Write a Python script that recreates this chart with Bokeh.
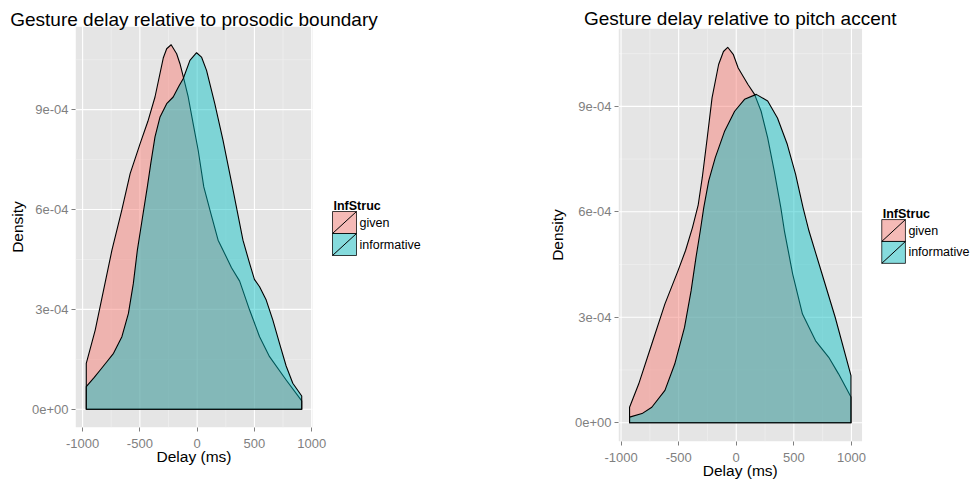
from bokeh.plotting import figure
from bokeh.layouts import row, column
from bokeh.models import Range1d, FixedTicker, LinearAxis
from bokeh.core.properties import value
from bokeh.embed import file_html
from bokeh.resources import INLINE

# ---------------- data ----------------
x_ticks = [-1000, -500, 0, 500, 1000]
x_tick_labels = ["-1000", "-500", "0", "500", "1000"]
x_minor = [-750, -250, 250, 750]
y_ticks = [0, 3e-4, 6e-4, 9e-4]
y_tick_labels = ["0e+00", "3e-04", "6e-04", "9e-04"]
y_minor = [1.5e-4, 4.5e-4, 7.5e-4, 10.5e-4]

groups = ["given", "informative"]
legend_title = "InfStruc"
group_colors = ["#F8766D", "#00BFC4"]

title_boundary = "Gesture delay relative to prosodic boundary"
title_accent = "Gesture delay relative to pitch accent"
x_label = "Delay (ms)"
y_label = "Density"

# density relative to prosodic boundary
pb_given_x = [-968, -890, -817, -744, -660, -585, -498, -430, -368, -296, -266, -227,
              -179, -150, -113, -78, -35, 9, 58, 120, 183, 226, 300, 371, 458, 545,
              632, 777, 913]
pb_given_y = [1.38e-4, 2.38e-4, 3.58e-4, 4.78e-4, 5.95e-4, 7.08e-4, 7.98e-4, 8.65e-4,
              9.38e-4, 10.55e-4, 10.83e-4, 10.95e-4, 10.68e-4, 10.38e-4, 9.88e-4,
              9.38e-4, 8.58e-4, 7.78e-4, 6.68e-4, 5.88e-4, 5.08e-4, 4.78e-4, 4.25e-4,
              3.85e-4, 2.98e-4, 2.18e-4, 1.58e-4, 0.88e-4, 0.25e-4]
pb_info_x = [-968, -900, -846, -790, -730, -657, -600, -557, -522, -480, -435, -405,
             -368, -324, -266, -209, -160, -122, -63, -5, 38, 82, 154, 226, 308, 400,
             458, 500, 545, 603, 661, 719, 777, 835, 913]
pb_info_y = [0.68e-4, 0.95e-4, 1.18e-4, 1.42e-4, 1.68e-4, 2.18e-4, 2.88e-4, 3.78e-4,
             4.78e-4, 5.70e-4, 6.68e-4, 7.38e-4, 8.18e-4, 8.78e-4, 9.18e-4, 9.38e-4,
             9.70e-4, 9.93e-4, 10.48e-4, 10.71e-4, 10.58e-4, 10.18e-4, 9.18e-4,
             8.08e-4, 6.68e-4, 5.08e-4, 4.38e-4, 3.90e-4, 3.68e-4, 3.28e-4, 2.68e-4,
             1.98e-4, 1.30e-4, 0.78e-4, 0.40e-4]

# density relative to pitch accent
pa_given_x = [-926, -847, -733, -619, -506, -440, -380, -330, -295, -252, -210, -153,
              -111, -74, -26, 17, 102, 159, 216, 273, 330, 387, 418, 490, 575, 689,
              803, 888, 996]
pa_given_y = [0.44e-4, 1.10e-4, 2.24e-4, 3.38e-4, 4.32e-4, 4.90e-4, 5.55e-4, 6.20e-4,
              6.97e-4, 8.10e-4, 9.24e-4, 10.19e-4, 10.56e-4, 10.68e-4, 10.48e-4,
              10.09e-4, 9.62e-4, 9.34e-4, 8.86e-4, 8.10e-4, 7.16e-4, 6.12e-4, 5.46e-4,
              4.23e-4, 3.09e-4, 2.33e-4, 1.86e-4, 1.39e-4, 0.73e-4]
pa_info_x = [-926, -818, -733, -619, -534, -449, -392, -350, -312, -282, -239, -182,
             -100, -14, 72, 174, 273, 358, 443, 515, 580, 631, 745, 859, 996]
pa_info_y = [0.16e-4, 0.26e-4, 0.44e-4, 0.92e-4, 1.67e-4, 2.71e-4, 3.75e-4, 4.69e-4,
             5.46e-4, 6.12e-4, 6.88e-4, 7.54e-4, 8.30e-4, 8.86e-4, 9.20e-4, 9.34e-4,
             9.15e-4, 8.67e-4, 7.92e-4, 7.07e-4, 6.12e-4, 5.46e-4, 4.23e-4, 3.00e-4,
             1.34e-4]

FONT = "Liberation Sans"
ALPHA = 0.45
GREY = "#7F7F7F"


def style_axis(ax, size, color):
    ax.axis_line_color = None
    ax.minor_tick_line_color = None
    ax.major_label_text_font = FONT
    ax.major_label_text_font_size = size
    ax.major_label_text_color = color


def make_panel(title, series, W, H, mbl, mbt, mbb, panel_w, title_standoff, ylab_standoff):
    fw = W - mbl           # frame = data panel + legend area
    fh = H - mbt - mbb
    all_x = [v for xs, _ in series for v in xs]
    all_y = [v for _, ys in series for v in ys]
    xmin, xmax = min(all_x), max(all_x)
    xlo, xhi = xmin - 0.05 * (xmax - xmin), xmax + 0.05 * (xmax - xmin)
    ymax = max(all_y)
    ylo, yhi = -0.05 * ymax, ymax * 1.05
    kx = (xhi - xlo) / panel_w

    def X(px):
        return xlo + kx * px

    def Y(py):
        return yhi - (yhi - ylo) * py / fh

    p = figure(width=W, height=H, x_range=Range1d(xlo, X(fw)), y_range=Range1d(ylo, yhi),
               output_backend="svg", toolbar_location=None, title=None,
               min_border_left=mbl, min_border_right=0,
               min_border_top=mbt, min_border_bottom=mbb)
    p.background_fill_color = "white"
    p.border_fill_color = "white"
    p.outline_line_color = None
    p.grid.visible = False

    # axes
    xax = p.below[0]
    yax = p.left[0]
    xax.ticker = FixedTicker(ticks=x_ticks, minor_ticks=x_minor)
    yax.ticker = FixedTicker(ticks=y_ticks, minor_ticks=y_minor)
    xax.major_label_overrides = dict(zip(x_ticks, x_tick_labels))
    yax.major_label_overrides = dict(zip(y_ticks, y_tick_labels))
    for ax in (xax, yax):
        style_axis(ax, "13px", GREY)
        ax.major_tick_line_color = GREY
        ax.major_tick_out = 4
        ax.major_tick_in = 0
    xax.major_label_standoff = 7
    yax.major_label_standoff = 3
    yax.axis_label = y_label
    yax.axis_label_text_font = FONT
    yax.axis_label_text_font_size = "15.5px"
    yax.axis_label_text_font_style = "normal"
    yax.axis_label_text_color = "black"
    yax.axis_label_standoff = ylab_standoff

    xc = (xlo + xhi) / 2.0
    lab_ax = LinearAxis(ticker=FixedTicker(ticks=[xc]),
                        major_label_overrides={xc: x_label})
    style_axis(lab_ax, "15.5px", "black")
    lab_ax.major_tick_line_color = None
    lab_ax.major_tick_out = 0
    lab_ax.major_tick_in = 0
    lab_ax.major_label_standoff = -3
    p.add_layout(lab_ax, "below")

    tit_ax = LinearAxis(ticker=FixedTicker(ticks=[xc]),
                        major_label_overrides={xc: title})
    style_axis(tit_ax, "19px", "black")
    tit_ax.major_tick_line_color = None
    tit_ax.major_tick_out = 0
    tit_ax.major_tick_in = 0
    tit_ax.major_label_standoff = title_standoff
    p.add_layout(tit_ax, "above")

    # grey panel and grid
    p.quad(left=[xlo], right=[xhi], bottom=[ylo], top=[yhi],
           fill_color="#E5E5E5", line_color=None)
    p.segment(x0=x_minor, y0=[ylo] * len(x_minor), x1=x_minor, y1=[yhi] * len(x_minor),
              line_color="#F2F2F2", line_width=0.6)
    p.segment(x0=[xlo] * len(y_minor), y0=y_minor, x1=[xhi] * len(y_minor), y1=y_minor,
              line_color="#F2F2F2", line_width=0.6)
    p.segment(x0=x_ticks, y0=[ylo] * len(x_ticks), x1=x_ticks, y1=[yhi] * len(x_ticks),
              line_color="white", line_width=1.1)
    p.segment(x0=[xlo] * len(y_ticks), y0=y_ticks, x1=[xhi] * len(y_ticks), y1=y_ticks,
              line_color="white", line_width=1.1)

    # densities
    for (xs, ys), c in zip(series, group_colors):
        px = [xs[0]] + list(xs) + [xs[-1]]
        py = [0] + list(ys) + [0]
        p.patch(px, py, fill_color=c, fill_alpha=ALPHA,
                line_color="black", line_width=1.1, line_join="round")

    # legend (in the white area right of the panel)
    cy = fh / 2.0
    lx = panel_w + 20
    kw = 24
    tops = [cy - 15.5, cy + 6.5]
    bots = [cy + 6.5, cy + 28.5]
    L = [X(lx)] * 2
    R = [X(lx + kw)] * 2
    T = [Y(t) for t in tops]
    B = [Y(b) for b in bots]
    p.text(x=[X(lx + 1)], y=[Y(cy - 21)], text=[legend_title], text_font=value(FONT),
           text_font_size=value("12.5px"), text_font_style="bold",
           text_baseline="alphabetic", text_align="left", text_color="black")
    p.quad(left=L, right=R, top=T, bottom=B, fill_color="#F2F2F2", line_color=None)
    p.quad(left=L, right=R, top=T, bottom=B, fill_color=group_colors, fill_alpha=ALPHA,
           line_color="black", line_alpha=0.75, line_width=1)
    p.segment(x0=L, y0=B, x1=R, y1=T, line_color="black", line_width=1)
    p.text(x=[X(lx + kw + 3)] * 2, y=[Y((t + b) / 2.0) for t, b in zip(tops, bots)],
           text=groups, text_font=value(FONT), text_font_size=value("12.5px"),
           text_baseline="middle", text_align="left", text_color="black")
    return p


p1 = make_panel(title_boundary, [(pb_given_x, pb_given_y), (pb_info_x, pb_info_y)],
                W=545, H=481, mbl=75, mbt=26, mbb=54, panel_w=237,
                title_standoff=-3, ylab_standoff=3)
p2 = make_panel(title_accent, [(pa_given_x, pa_given_y), (pa_info_x, pa_info_y)],
                W=425, H=481, mbl=68, mbt=28, mbb=38, panel_w=247,
                title_standoff=0, ylab_standoff=6)

layout = row(column(p1), column(p2))
open("out.html", "w").write(file_html(layout, INLINE))
